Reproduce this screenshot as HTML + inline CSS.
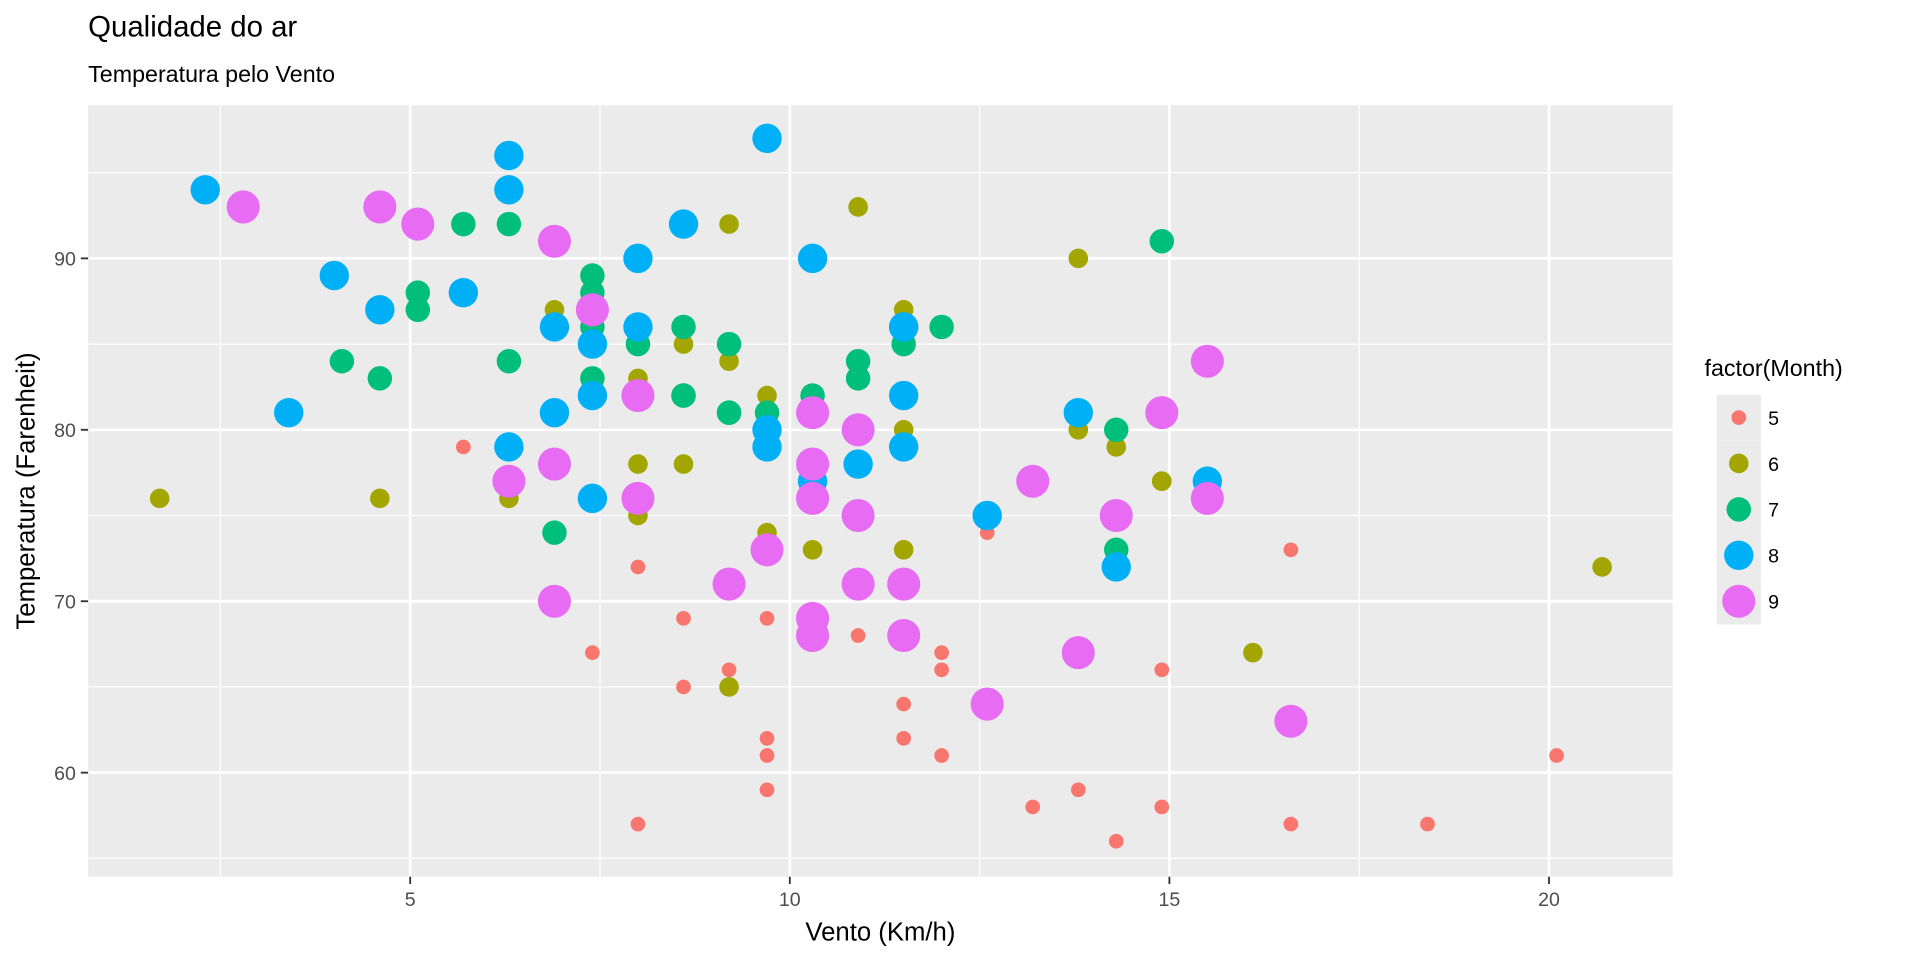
<!DOCTYPE html>
<html><head><meta charset="utf-8"><style>
body{margin:0;background:#fff;font-family:"Liberation Sans",Arial,sans-serif;overflow:hidden;}
svg text{font-family:"Liberation Sans",Arial,sans-serif;}
</style></head><body>
<svg id="chart" width="1920" height="960" viewBox="0 0 1568 784" xmlns="http://www.w3.org/2000/svg">
<text x="72" y="30" font-size="24" fill="#000">Qualidade do ar</text>
<text x="72" y="67" font-size="19" fill="#000">Temperatura pelo Vento</text>
<rect x="72" y="86" width="1294" height="630" fill="#ebebeb"/>
<g id="grid"></g>
<g id="points"></g>
<g id="axes"></g>
<text x="719" y="768" font-size="21" text-anchor="middle" fill="#000">Vento (Km/h)</text>
<text transform="translate(28,401) rotate(-90)" font-size="21" text-anchor="middle" fill="#000">Temperatura (Farenheit)</text>
<g id="legend"></g>
</svg>
<script>
const months=[5,6,7,8,9];
const wind5=[7.4,8,12.6,11.5,14.3,14.9,8.6,13.8,20.1,8.6,6.9,9.7,9.2,10.9,13.2,11.5,12,18.4,11.5,9.7,9.7,16.6,9.7,12,16.6,14.9,8,12,14.9,5.7,7.4];
const temp5=[67,72,74,62,56,66,65,59,61,69,74,69,66,68,58,64,66,57,68,62,59,73,61,61,57,58,57,67,81,79,76];
const wind6=[8.6,9.7,16.1,9.2,8.6,14.3,9.7,6.9,13.8,11.5,10.9,9.2,8,13.8,11.5,14.9,20.7,9.2,11.5,10.3,6.3,1.7,4.6,6.3,8,8,10.3,11.5,14.9,8];
const temp6=[78,74,67,84,85,79,82,87,90,87,93,92,82,80,79,77,72,65,73,76,77,76,76,76,75,78,73,80,77,83];
const wind7=[4.1,9.2,9.2,10.9,4.6,10.9,5.1,6.3,5.7,7.4,8.6,14.3,14.9,14.9,14.3,6.9,10.3,6.3,5.1,11.5,6.9,9.7,11.5,8.6,8,8.6,12,7.4,7.4,7.4,9.2];
const temp7=[84,85,81,84,83,83,88,92,92,89,82,73,81,91,80,81,82,84,87,85,74,81,82,86,85,82,86,88,86,83,81];
const wind8=[6.9,13.8,7.4,6.9,7.4,4.6,4,10.3,8,8.6,11.5,11.5,11.5,9.7,11.5,10.3,6.3,7.4,10.9,10.3,15.5,14.3,12.6,9.7,3.4,8,5.7,9.7,2.3,6.3,6.3];
const temp8=[81,81,82,86,85,87,89,90,90,92,86,86,82,80,79,77,79,76,78,78,77,72,75,79,81,86,88,97,94,96,94];
const wind9=[6.9,5.1,2.8,4.6,7.4,15.5,10.9,10.3,10.9,9.7,14.9,15.5,6.3,10.9,11.5,6.9,13.8,10.3,10.3,8,12.6,9.2,10.3,10.3,16.6,6.9,13.2,14.3,8,11.5];
const temp9=[91,92,93,93,87,84,80,78,75,73,81,76,77,71,71,78,67,76,68,82,64,71,81,69,63,70,77,75,76,68];
const xTicks=[5,10,15,20], xMinor=[2.5,7.5,12.5,17.5];
const yTicks=[60,70,80,90], yMinor=[55,65,75,85,95];
const winds=[wind5,wind6,wind7,wind8,wind9], temps=[temp5,temp6,temp7,temp8,temp9];
const colors=["#F8766D","#A3A500","#00BF7D","#00B0F6","#E76BF3"];
const radii=[6,8,10,12,13.5];
const X=v=>645+(v-10)*62, Y=v=>631-(v-60)*14;
const NS="http://www.w3.org/2000/svg";
function mk(t,a,p){const e=document.createElementNS(NS,t);for(const k in a)e.setAttribute(k,a[k]);p.appendChild(e);return e;}
const grid=document.getElementById('grid');
xMinor.forEach(v=>{const l=mk('line',{x1:X(v),x2:X(v),y1:86,y2:716,stroke:'#fff','stroke-width':1},grid);

});
yMinor.forEach(v=>{const l=mk('line',{x1:72,x2:1366,y1:Y(v),y2:Y(v),stroke:'#fff','stroke-width':1},grid);

});
const axes=document.getElementById('axes');
xTicks.forEach(v=>{const l=mk('line',{x1:X(v),x2:X(v),y1:86,y2:716,stroke:'#fff','stroke-width':2.2},grid);


const t=mk('line',{x1:X(v),x2:X(v),y1:716,y2:722,stroke:'#333','stroke-width':1.5},axes);


const tx=mk('text',{x:X(v),y:740,'font-size':16,'text-anchor':'middle',fill:'#4d4d4d'},axes);tx.textContent=v;

});
yTicks.forEach(v=>{const l=mk('line',{x1:72,x2:1366,y1:Y(v),y2:Y(v),stroke:'#fff','stroke-width':2.2},grid);


const t=mk('line',{x1:66,x2:72,y1:Y(v),y2:Y(v),stroke:'#333','stroke-width':1.5},axes);


const tx=mk('text',{x:62,y:Y(v)+6,'font-size':16,'text-anchor':'end',fill:'#4d4d4d'},axes);tx.textContent=v;

});
const pts=document.getElementById('points');
months.forEach((m,i)=>{winds[i].forEach((w,j)=>{const c=mk('circle',{cx:X(w),cy:Y(temps[i][j]),r:radii[i],fill:colors[i]},pts);

});});
const lg=document.getElementById('legend');
const lt=mk('text',{x:1392,y:307,'font-size':19,fill:'#000'},lg);lt.textContent='factor(Month)';


months.forEach((m,i)=>{const y=341+i*37.5;
const bg=mk('rect',{x:1402,y:y-18.5,width:36,height:37.5,fill:'#ebebeb'},lg);


const c=mk('circle',{cx:1420,cy:y,r:radii[i],fill:colors[i]},lg);


const t=mk('text',{x:1444,y:y+6,'font-size':16,fill:'#000'},lg);t.textContent=m;

});
</script>
</body></html>
